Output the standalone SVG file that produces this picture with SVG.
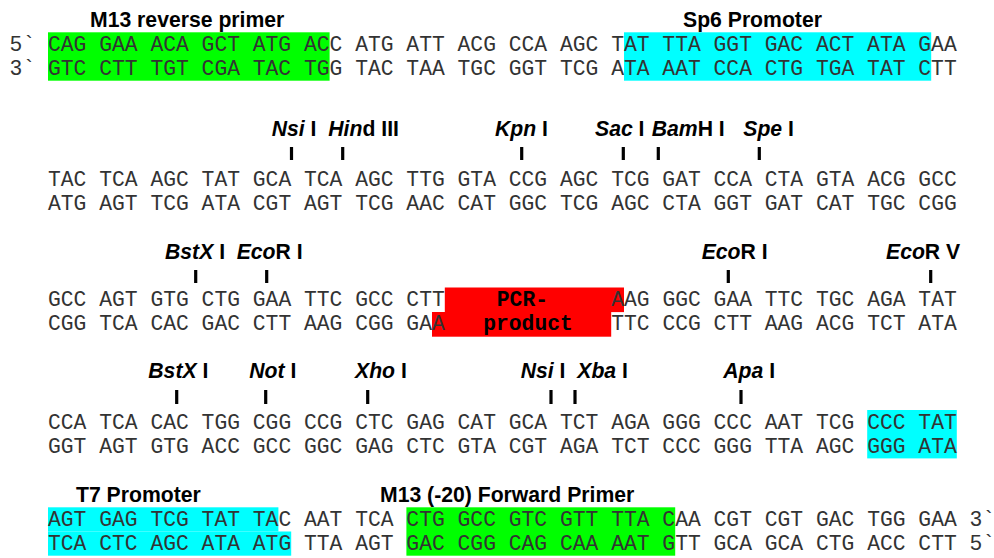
<svg xmlns="http://www.w3.org/2000/svg" width="994" height="558" viewBox="0 0 994 558">
<style>
.seq{font-family:"Liberation Mono","Courier New",monospace;font-size:21.33px;fill:#333;white-space:pre}
.pcr{font-family:"Liberation Mono","Courier New",monospace;font-size:21.33px;font-weight:bold;fill:#000}
.lbl{font-family:"Liberation Sans",Arial,sans-serif;font-size:21.2px;font-weight:bold;fill:#000}
.i{font-style:italic}
.g{fill:#00ff00}
.c{fill:#00ffff}
.r{fill:#ff0000}
.tick{stroke:#000;stroke-width:3.2}
</style>
<rect width="994" height="558" fill="#fff"/>

<g id="block1">
  <g id="m13-reverse-primer">
    <rect class="g" x="48" y="32.3" width="281.6" height="48.4"/>
    <text class="lbl" x="90" y="27">M13 reverse primer</text>
  </g>
  <g id="sp6-promoter">
    <rect class="c" x="624" y="32.3" width="307.2" height="48.4"/>
    <text class="lbl" x="683" y="27">Sp6 Promoter</text>
  </g>
  <text class="seq" x="9.6" y="51" xml:space="preserve">5` CAG GAA ACA GCT ATG ACC ATG ATT ACG CCA AGC TAT TTA GGT GAC ACT ATA GAA</text>
  <text class="seq" x="9.6" y="75.2" xml:space="preserve">3` GTC CTT TGT CGA TAC TGG TAC TAA TGC GGT TCG ATA AAT CCA CTG TGA TAT CTT</text>
</g>

<g id="block2">
  <g id="labels2">
    <text class="lbl" x="271.7" y="136"><tspan class="i">Nsi</tspan> I</text>
    <text class="lbl" x="328.3" y="136"><tspan class="i">Hin</tspan>d III</text>
    <text class="lbl" x="495" y="136"><tspan class="i">Kpn</tspan> I</text>
    <text class="lbl" x="595" y="136"><tspan class="i">Sac</tspan> I</text>
    <text class="lbl" x="651.7" y="136"><tspan class="i">Bam</tspan>H I</text>
    <text class="lbl" x="743.3" y="136"><tspan class="i">Spe</tspan> I</text>
  </g>
  <text class="seq" x="48" y="186" xml:space="preserve">TAC TCA AGC TAT GCA TCA AGC TTG GTA CCG AGC TCG GAT CCA CTA GTA ACG GCC</text>
  <text class="seq" x="48" y="210.2" xml:space="preserve">ATG AGT TCG ATA CGT AGT TCG AAC CAT GGC TCG AGC CTA GGT GAT CAT TGC CGG</text>
</g>

<g id="block3">
  <g id="labels3">
    <text class="lbl" x="165" y="258.5"><tspan class="i">BstX</tspan> I</text>
    <text class="lbl" x="236.7" y="258.5"><tspan class="i">Eco</tspan>R I</text>
    <text class="lbl" x="701.7" y="258.5"><tspan class="i">Eco</tspan>R I</text>
    <text class="lbl" x="886" y="258.5"><tspan class="i">Eco</tspan>R V</text>
  </g>
  <g id="pcr-product">
    <rect class="r" x="444.8" y="287.5" width="179.2" height="24.6"/>
    <rect class="r" x="432" y="312" width="179.2" height="24.7"/>
    <text class="pcr" x="496.8" y="306">PCR-</text>
    <text class="pcr" x="483.2" y="330.3">product</text>
  </g>
  <text class="seq" x="48" y="306" xml:space="preserve">GCC AGT GTG CTG GAA TTC GCC CTT</text>
  <text class="seq" x="611.2" y="306" xml:space="preserve">AAG GGC GAA TTC TGC AGA TAT</text>
  <text class="seq" x="48" y="330.3" xml:space="preserve">CGG TCA CAC GAC CTT AAG CGG GAA</text>
  <text class="seq" x="611.2" y="330.3" xml:space="preserve">TTC CCG CTT AAG ACG TCT ATA</text>
</g>

<g id="block4">
  <g id="labels4">
    <text class="lbl" x="148.3" y="378"><tspan class="i">BstX</tspan> I</text>
    <text class="lbl" x="249.3" y="378"><tspan class="i">Not</tspan> I</text>
    <text class="lbl" x="355" y="378"><tspan class="i">Xho</tspan> I</text>
    <text class="lbl" x="520.7" y="378"><tspan class="i">Nsi</tspan> I</text>
    <text class="lbl" x="577.3" y="378"><tspan class="i">Xba</tspan> I</text>
    <text class="lbl" x="723.3" y="378"><tspan class="i">Apa</tspan> I</text>
  </g>
  <g id="t7-promoter-start">
    <rect class="c" x="867.2" y="410" width="89.6" height="48.4"/>
  </g>
  <text class="seq" x="48" y="428.7" xml:space="preserve">CCA TCA CAC TGG CGG CCG CTC GAG CAT GCA TCT AGA GGG CCC AAT TCG CCC TAT</text>
  <text class="seq" x="48" y="452.9" xml:space="preserve">GGT AGT GTG ACC GCC GGC GAG CTC GTA CGT AGA TCT CCC GGG TTA AGC GGG ATA</text>
</g>

<g id="block5">
  <g id="t7-promoter">
    <rect class="c" x="48" y="507.3" width="230.4" height="24.2"/>
    <rect class="c" x="48" y="531.5" width="243.2" height="24.2"/>
    <text class="lbl" x="76" y="501.7">T7 Promoter</text>
  </g>
  <g id="m13-forward-primer">
    <rect class="g" x="406.4" y="507.3" width="268.8" height="48.4"/>
    <text class="lbl" x="380" y="501.7">M13 (-20) Forward Primer</text>
  </g>
  <text class="seq" x="48" y="526" xml:space="preserve">AGT GAG TCG TAT TAC AAT TCA CTG GCC GTC GTT TTA CAA CGT CGT GAC TGG GAA 3`</text>
  <text class="seq" x="48" y="550.2" xml:space="preserve">TCA CTC AGC ATA ATG TTA AGT GAC CGG CAG CAA AAT GTT GCA GCA CTG ACC CTT 5`</text>
</g>

<g id="connectors">
  <line class="tick" x1="291.5" y1="147" x2="291.5" y2="160"/>
  <line class="tick" x1="342.7" y1="147" x2="342.7" y2="160"/>
  <line class="tick" x1="521.7" y1="147" x2="521.7" y2="160"/>
  <line class="tick" x1="623.3" y1="147" x2="623.3" y2="160"/>
  <line class="tick" x1="658.3" y1="147" x2="658.3" y2="160"/>
  <line class="tick" x1="759.3" y1="147" x2="759.3" y2="160"/>
  <line class="tick" x1="195.7" y1="270" x2="195.7" y2="283"/>
  <line class="tick" x1="266.7" y1="270" x2="266.7" y2="283"/>
  <line class="tick" x1="728.3" y1="270" x2="728.3" y2="283"/>
  <line class="tick" x1="930.7" y1="270" x2="930.7" y2="283"/>
  <line class="tick" x1="176.7" y1="390" x2="176.7" y2="404"/>
  <line class="tick" x1="265.7" y1="390" x2="265.7" y2="404"/>
  <line class="tick" x1="367.7" y1="390" x2="367.7" y2="404"/>
  <line class="tick" x1="551" y1="390" x2="551" y2="404"/>
  <line class="tick" x1="575" y1="390" x2="575" y2="404"/>
  <line class="tick" x1="741" y1="390" x2="741" y2="404"/>
</g>
</svg>
